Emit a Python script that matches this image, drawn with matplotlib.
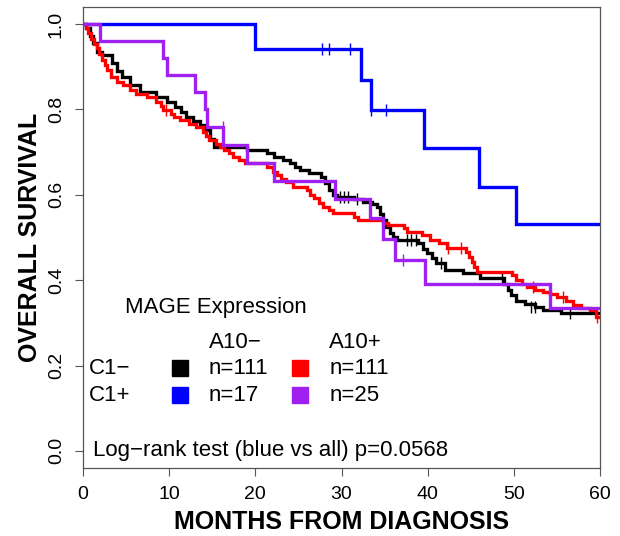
import matplotlib
matplotlib.use('Agg')
import matplotlib.pyplot as plt

plt.rcParams['font.family'] = ['Liberation Sans', 'DejaVu Sans']

# Kaplan-Meier step curves (months, survival after step)
black_t = [0, 0.4, 0.8, 1.2, 1.6, 2.2, 3.4, 4.0, 4.5, 5.4, 6.6, 8.5, 9.8, 10.7, 11.4,
           12.0, 12.8, 13.6, 14.3, 14.7, 15.2, 19.0, 21.3, 22.2, 23.2, 24.0, 24.6,
           25.2, 26.2, 27.6, 28.1, 28.5, 29.0, 29.5, 31.5, 32.5, 33.5, 34.1, 34.5,
           34.8, 35.2, 35.6, 36.0, 36.4, 38.9, 39.5, 39.9, 40.5, 41.0, 42.0, 44.1,
           46.1, 48.9, 49.3, 49.7, 50.2, 51.3, 52.5, 53.4, 55.5, 60]
black_s = [1.0, 0.99, 0.973, 0.955, 0.935, 0.927, 0.908, 0.89, 0.877, 0.857, 0.841,
           0.828, 0.817, 0.806, 0.795, 0.783, 0.772, 0.763, 0.752, 0.73, 0.713, 0.705,
           0.697, 0.689, 0.681, 0.674, 0.666, 0.658, 0.65, 0.642, 0.627, 0.611, 0.6,
           0.596, 0.59, 0.584, 0.578, 0.572, 0.556, 0.541, 0.525, 0.51, 0.502, 0.494,
           0.486, 0.474, 0.463, 0.451, 0.44, 0.424, 0.416, 0.404, 0.39, 0.378, 0.365,
           0.352, 0.345, 0.338, 0.33, 0.322, 0.322]

red_t = [0, 0.3, 0.6, 0.9, 1.3, 1.6, 1.9, 2.2, 2.5, 2.8, 3.3, 3.9, 4.7, 5.4, 6.2, 7.4,
         8.5, 9.0, 9.3, 10.2, 10.6, 11.3, 12.3, 13.1, 13.9, 14.3, 14.6, 15.4, 15.9,
         16.4, 17.0, 17.4, 18.1, 18.8, 21.3, 22.0, 22.5, 23.0, 23.6, 24.4, 26.0, 26.4,
         26.8, 27.4, 27.9, 28.5, 29.0, 31.5, 31.9, 34.8, 35.4, 37.2, 37.6, 39.4, 40.3,
         41.3, 42.2, 44.5, 44.8, 45.1, 45.4, 45.7, 49.8, 50.3, 51.0, 51.5, 52.5, 53.4,
         54.2, 55.0, 56.0, 56.9, 57.8, 58.8, 59.5, 60]
red_s = [1.0, 0.99, 0.978, 0.965, 0.953, 0.943, 0.93, 0.916, 0.904, 0.892, 0.877,
         0.865, 0.857, 0.845, 0.837, 0.829, 0.818, 0.808, 0.798, 0.79, 0.783, 0.775,
         0.767, 0.759, 0.747, 0.738, 0.728, 0.72, 0.713, 0.705, 0.697, 0.689, 0.681,
         0.674, 0.666, 0.654, 0.646, 0.638, 0.631, 0.619, 0.611, 0.6, 0.592, 0.58,
         0.572, 0.564, 0.557, 0.549, 0.541, 0.533, 0.529, 0.522, 0.514, 0.506, 0.494,
         0.486, 0.475, 0.467, 0.455, 0.443, 0.432, 0.42, 0.412, 0.4, 0.392, 0.385,
         0.378, 0.373, 0.367, 0.361, 0.352, 0.342, 0.336, 0.33, 0.314, 0.314]

blue_t = [0, 20.0, 32.3, 33.4, 39.6, 46.0, 50.3, 60]
blue_s = [1.0, 0.941, 0.869, 0.799, 0.709, 0.619, 0.531, 0.531]

purple_t = [0, 2.0, 9.3, 9.7, 13.0, 14.2, 14.4, 16.3, 19.0, 22.2, 29.2, 33.3, 34.8,
            36.2, 39.7, 54.2, 60]
purple_s = [1.0, 0.96, 0.92, 0.88, 0.841, 0.80, 0.76, 0.717, 0.675, 0.633, 0.59,
            0.545, 0.496, 0.447, 0.39, 0.334, 0.334]

# censoring marks (month, survival)
black_cens_t = [29.8, 30.3, 30.8, 31.8, 37.6, 38.1, 38.6, 41.6, 48.6, 52.0, 52.4, 56.5]
black_cens_s = [0.596, 0.596, 0.596, 0.590, 0.494, 0.494, 0.494, 0.440, 0.404, 0.338, 0.338, 0.322]
red_cens_t = [9.6, 42.4, 43.9, 52.2, 55.7, 59.6]
red_cens_s = [0.798, 0.475, 0.475, 0.385, 0.361, 0.314]
blue_cens_t = [27.7, 28.5, 31.0, 33.4, 35.2]
blue_cens_s = [0.941, 0.941, 0.941, 0.799, 0.799]
purple_cens_t = [16.2, 37.1]
purple_cens_s = [0.76, 0.447]

col_black = 'black'
col_blue = '#0000FF'
col_red = '#FF0000'
col_purple = '#A020F0'

row_labels = ['C1\u2212', 'C1+']
col_labels = ['A10\u2212', 'A10+']
counts = [['n=111', 'n=111'], ['n=17', 'n=25']]
legend_colors = [[col_black, col_red], [col_blue, col_purple]]

fig = plt.figure(figsize=(6.2, 5.36), dpi=100)
ax = fig.add_axes([83 / 620, 1 - 468 / 536, 517 / 620, 461 / 536])

curves = [(black_t, black_s, black_cens_t, black_cens_s, col_black),
          (blue_t, blue_s, blue_cens_t, blue_cens_s, col_blue),
          (red_t, red_s, red_cens_t, red_cens_s, col_red),
          (purple_t, purple_s, purple_cens_t, purple_cens_s, col_purple)]
for t, s, ct, cs, c in curves:
    ax.step(t, s, where='post', color=c, lw=2.4, solid_joinstyle='miter')
    ax.plot(ct, cs, ls='none', marker='|', ms=8, mew=1, color=c)

ax.set_xlim(0, 60)
ax.set_ylim(-0.04, 1.04)
ax.set_xticks(range(0, 61, 10))
ax.set_yticks([0, 0.2, 0.4, 0.6, 0.8, 1.0])
ax.set_yticklabels(['0.0', '0.2', '0.4', '0.6', '0.8', '1.0'], rotation=90, va='center')
ax.tick_params(axis='both', direction='out', length=6, width=0.8, color='#555555',
               labelsize=14, pad=7)
for sp in ax.spines.values():
    sp.set_color('#555555')
    sp.set_linewidth(0.9)

ax.set_xlabel('MONTHS FROM DIAGNOSIS', fontsize=18, fontweight='bold', va='center')
ax.xaxis.set_label_coords(0.5, (468 - 522) / 461)
ax.set_ylabel('OVERALL SURVIVAL', fontsize=18, fontweight='bold', va='center')
ax.yaxis.set_label_coords((30 - 83) / 517, 0.5)

# legend block
fs = 16
ax.text(4.87, 0.337, 'MAGE Expression', fontsize=fs, ha='left', va='center')
col_x = [14.6, 28.6]
sq_x = [11.25, 25.2]
row_y = [0.194, 0.131]
for j, lab in enumerate(col_labels):
    ax.text(col_x[j], 0.253, lab, fontsize=fs, ha='left', va='center')
for i, lab in enumerate(row_labels):
    ax.text(0.7, row_y[i], lab, fontsize=fs, ha='left', va='center')
    for j in range(2):
        ax.plot(sq_x[j], row_y[i], marker='s', ms=11, color=legend_colors[i][j], ls='none')
        ax.text(col_x[j], row_y[i], counts[i][j], fontsize=fs, ha='left', va='center')

ax.text(1.13, 0.002, 'Log\u2212rank test (blue vs all) p=0.0568', fontsize=fs,
        ha='left', va='center')

fig.savefig('out.png', dpi=100)
